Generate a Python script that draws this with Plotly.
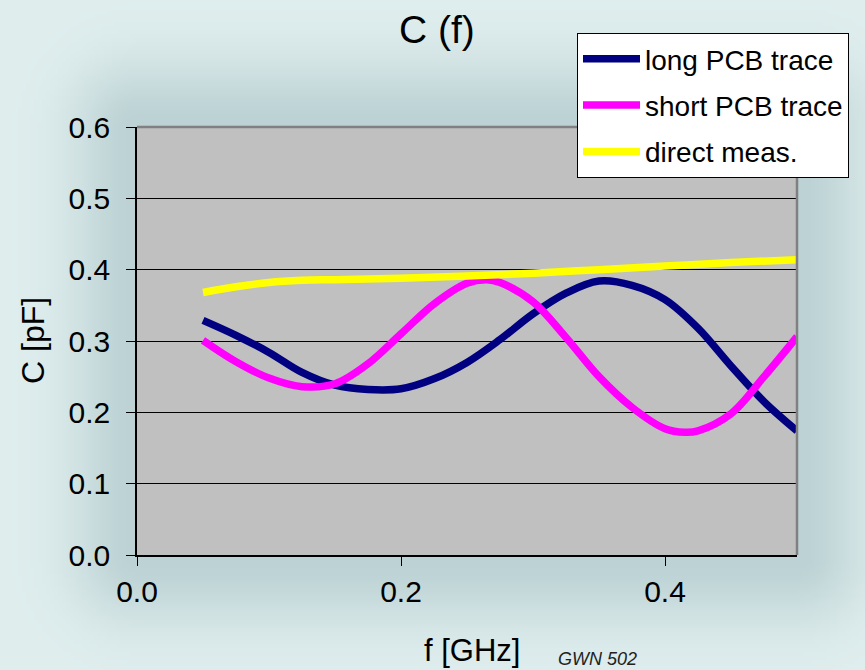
import base64
import struct
import zlib

import numpy as np
import plotly.graph_objects as go

# ---------------- data ----------------
long_x = [0.05, 0.075, 0.10, 0.125, 0.15, 0.175, 0.20, 0.225, 0.25, 0.275, 0.30,
          0.325, 0.35, 0.375, 0.40, 0.425, 0.45, 0.475, 0.50]
long_c = [0.329, 0.308, 0.284, 0.256, 0.238, 0.232, 0.233, 0.247, 0.270, 0.302, 0.338,
          0.367, 0.384, 0.378, 0.358, 0.318, 0.265, 0.215, 0.174]

short_x = [0.05, 0.075, 0.10, 0.125, 0.15, 0.175, 0.20, 0.225, 0.25, 0.265, 0.275,
           0.30, 0.325, 0.35, 0.375, 0.40, 0.415, 0.425, 0.45, 0.475, 0.50]
short_c = [0.301, 0.271, 0.248, 0.236, 0.240, 0.268, 0.310, 0.352, 0.381, 0.386, 0.382,
           0.355, 0.305, 0.250, 0.207, 0.177, 0.172, 0.174, 0.198, 0.250, 0.306]

direct_x = [0.05, 0.075, 0.10, 0.125, 0.15, 0.20, 0.25, 0.30, 0.35, 0.40, 0.45, 0.50]
direct_c = [0.368, 0.376, 0.382, 0.385, 0.386, 0.388, 0.391, 0.395, 0.400, 0.405, 0.410, 0.414]

series_names = ["long PCB trace", "short PCB trace", "direct meas."]
x_tick_vals = [0.0, 0.2, 0.4]

# ---------------- layout geometry ----------------
W, H = 865, 670
ML, MR, MT, MB = 137, 68, 127, 115
PW, PH = W - ML - MR, H - MT - MB


def px_x(p):
    return (p - ML) / PW


def px_y(p):
    return (H - MB - p) / PH


# ---------------- soft glow background (decorative PNG) ----------------
def make_bg_png():
    s = 4
    w, h = W // s + 1, H // s + 1
    ys, xs = np.mgrid[0:h, 0:w].astype(float) * s
    x0, x1, y0, y1 = ML, W - MR, MT, H - MB
    dx = np.maximum.reduce([x0 - xs, np.zeros_like(xs), xs - x1])
    dy = np.maximum.reduce([y0 - ys, np.zeros_like(ys), ys - y1])
    d = np.sqrt(dx ** 2 + dy ** 2)
    t = np.exp(-(d / 65.0) ** 2)
    light = np.array([224, 238, 238], float)
    dark = np.array([188, 210, 212], float)
    img = light[None, None, :] + (dark - light)[None, None, :] * t[..., None]
    img = np.clip(img, 0, 255).astype(np.uint8)
    raw = b"".join(b"\x00" + img[r].tobytes() for r in range(h))

    def chunk(tag, data):
        c = struct.pack(">I", len(data)) + tag + data
        return c + struct.pack(">I", zlib.crc32(tag + data) & 0xFFFFFFFF)

    png = b"\x89PNG\r\n\x1a\n"
    png += chunk(b"IHDR", struct.pack(">IIBBBBB", w, h, 8, 2, 0, 0, 0))
    png += chunk(b"IDAT", zlib.compress(raw, 9))
    png += chunk(b"IEND", b"")
    return "data:image/png;base64," + base64.b64encode(png).decode()


FONT = "Liberation Sans, Arial, sans-serif"
LW = 7.5

fig = go.Figure()
fig.add_trace(go.Scatter(x=long_x, y=long_c, name=series_names[0], mode="lines",
                         line=dict(color="#000080", width=LW, shape="spline", smoothing=1.0),
                         legendgroup="a"))
fig.add_trace(go.Scatter(x=short_x, y=short_c, name=series_names[1], mode="lines",
                         line=dict(color="#FF00FF", width=LW, shape="spline", smoothing=1.0),
                         legendgroup="b"))
fig.add_trace(go.Scatter(x=direct_x, y=direct_c, name=series_names[2], mode="lines",
                         line=dict(color="#FFFF00", width=LW, shape="spline", smoothing=1.0),
                         legendgroup="c"))

fig.update_layout(
    width=W, height=H,
    margin=dict(l=ML, r=MR, t=MT, b=MB, autoexpand=False),
    paper_bgcolor="#DCEAEA",
    plot_bgcolor="rgba(0,0,0,0)",
    font=dict(family=FONT, color="black"),
    title=dict(text="C (f)", font=dict(size=39, family=FONT, color="black"),
               x=0.505, xanchor="center", xref="container",
               y=1 - 29 / H, yanchor="middle", yref="container"),
    showlegend=True,
    legend=dict(x=px_x(577), y=px_y(33), xanchor="left", yanchor="top",
                bgcolor="white", bordercolor="black", borderwidth=1,
                font=dict(size=28, family=FONT, color="black"),
                itemwidth=57, tracegroupgap=7, traceorder="grouped"),
    xaxis=dict(range=[0, 0.5], tickvals=x_tick_vals, tickformat=".1f",
               ticks="outside", ticklen=9, tickwidth=1, tickcolor="black",
               showline=True, linecolor="black", linewidth=1.5,
               showgrid=False, zeroline=False, ticklabelstandoff=0,
               tickfont=dict(size=30, family=FONT, color="black")),
    yaxis=dict(range=[0, 0.6], dtick=0.1, tick0=0, tickformat=".1f",
               ticks="outside", ticklen=9, tickwidth=1, tickcolor="black",
               showline=True, linecolor="black", linewidth=1.5,
               showgrid=True, gridcolor="black", gridwidth=1,
               zeroline=False, ticklabelstandoff=10,
               tickfont=dict(size=30, family=FONT, color="black")),
    images=[dict(source=make_bg_png(), xref="paper", yref="paper",
                 x=-ML / PW, y=1 + MT / PH, sizex=W / PW, sizey=H / PH,
                 xanchor="left", yanchor="top", sizing="stretch", layer="below")],
    shapes=[
        dict(type="rect", xref="x domain", yref="y domain", x0=0, x1=1, y0=0, y1=1,
             fillcolor="#C0C0C0", line=dict(width=0), layer="below"),
        dict(type="path", xref="paper", yref="paper",
             path="M 0,1 L 1,1 L 1,0", line=dict(color="#808080", width=2.5),
             layer="above"),
    ],
    annotations=[
        dict(text="C [pF]", x=px_x(33), y=0.5, xref="paper", yref="paper",
             textangle=-90, showarrow=False, xanchor="center", yanchor="middle",
             font=dict(size=32, family=FONT, color="black")),
        dict(text="f [GHz]", x=px_x(472), y=px_y(650), xref="paper", yref="paper",
             showarrow=False, xanchor="center", yanchor="middle",
             font=dict(size=31, family=FONT, color="black")),
        dict(text="<i>GWN 502</i>", x=px_x(597), y=px_y(671), xref="paper", yref="paper",
             showarrow=False, xanchor="center", yanchor="bottom",
             font=dict(size=18, family=FONT, color="#222222")),
    ],
)

fig.write_html("out.html")
